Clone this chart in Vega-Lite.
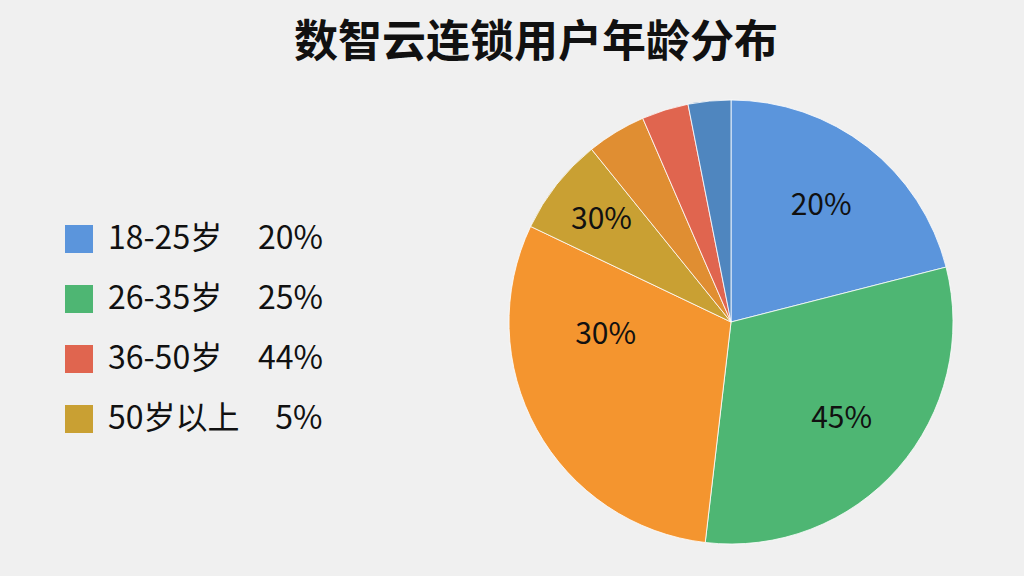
{
  "$schema": "https://vega.github.io/schema/vega-lite/v6.json",
  "autosize": "none",
  "width": 444,
  "height": 444,
  "padding": {"left": 509, "top": 100, "right": 71, "bottom": 32},
  "background": "#f0f0f0",
  "title": {
    "text": "数智云连锁用户年龄分布",
    "font": "Noto Sans CJK SC",
    "fontSize": 44,
    "fontWeight": "bold",
    "color": "#111111",
    "anchor": "middle",
    "dx": -195,
    "offset": 32
  },
  "data": {
    "values": [
      {"group": "18-25岁\u00a0\u00a0\u00a0\u00a0\u00a020%", "order": 1, "share": 21.0, "label": "20%"},
      {"group": "26-35岁\u00a0\u00a0\u00a0\u00a0\u00a025%", "order": 2, "share": 30.8, "label": "45%"},
      {"group": "其他A", "order": 3, "share": 30.2, "label": "30%"},
      {"group": "50岁以上\u00a0\u00a0\u00a0\u00a0\u00a05%", "order": 4, "share": 7.1, "label": "30%"},
      {"group": "其他B", "order": 5, "share": 4.3, "label": ""},
      {"group": "36-50岁\u00a0\u00a0\u00a0\u00a0\u00a044%", "order": 6, "share": 3.4, "label": ""},
      {"group": "其他C", "order": 7, "share": 3.1, "label": ""}
    ]
  },
  "encoding": {
    "theta": {"field": "share", "type": "quantitative", "stack": true},
    "order": {"field": "order", "type": "quantitative"}
  },
  "layer": [
    {
      "mark": {"type": "arc", "stroke": "#ffffff", "strokeWidth": 0.8},
      "encoding": {
        "color": {
          "field": "group",
          "type": "nominal",
          "scale": {
            "domain": ["18-25岁\u00a0\u00a0\u00a0\u00a0\u00a020%", "26-35岁\u00a0\u00a0\u00a0\u00a0\u00a025%", "其他A", "50岁以上\u00a0\u00a0\u00a0\u00a0\u00a05%", "其他B", "36-50岁\u00a0\u00a0\u00a0\u00a0\u00a044%", "其他C"],
            "range": ["#5b95dc", "#4eb673", "#f4952f", "#c9a033", "#e08e32", "#e0654f", "#4f86bf"]
          },
          "legend": {
            "values": ["18-25岁\u00a0\u00a0\u00a0\u00a0\u00a020%", "26-35岁\u00a0\u00a0\u00a0\u00a0\u00a025%", "36-50岁\u00a0\u00a0\u00a0\u00a0\u00a044%", "50岁以上\u00a0\u00a0\u00a0\u00a0\u00a05%"],
            "title": null,
            "orient": "none",
            "legendX": -446,
            "legendY": 123,
            "padding": 0,
            "symbolType": "square",
            "symbolSize": 784,
            "symbolStrokeWidth": 0,
            "symbolOpacity": 1,
            "labelFont": "Noto Sans CJK SC",
            "labelFontSize": 32,
            "labelColor": "#111111",
            "labelOffset": 13,
            "labelLimit": 400,
            "rowPadding": 28
          }
        }
      }
    },
    {
      "mark": {"type": "text", "radius": 147, "font": "Noto Sans CJK SC", "fontSize": 30, "color": "#111111"},
      "encoding": {
        "text": {"condition": {"test": "datum.order == 3 || datum.order == 4", "value": ""}, "field": "label"}
      }
    },
    {
      "mark": {"type": "text", "radius": 165, "font": "Noto Sans CJK SC", "fontSize": 30, "color": "#111111"},
      "encoding": {
        "text": {"condition": {"test": "datum.order != 4", "value": ""}, "field": "label"}
      }
    },
    {
      "mark": {"type": "text", "radius": 126, "thetaOffset": 0.4, "font": "Noto Sans CJK SC", "fontSize": 30, "color": "#111111"},
      "encoding": {
        "text": {"condition": {"test": "datum.order != 3", "value": ""}, "field": "label"}
      }
    }
  ]
}
